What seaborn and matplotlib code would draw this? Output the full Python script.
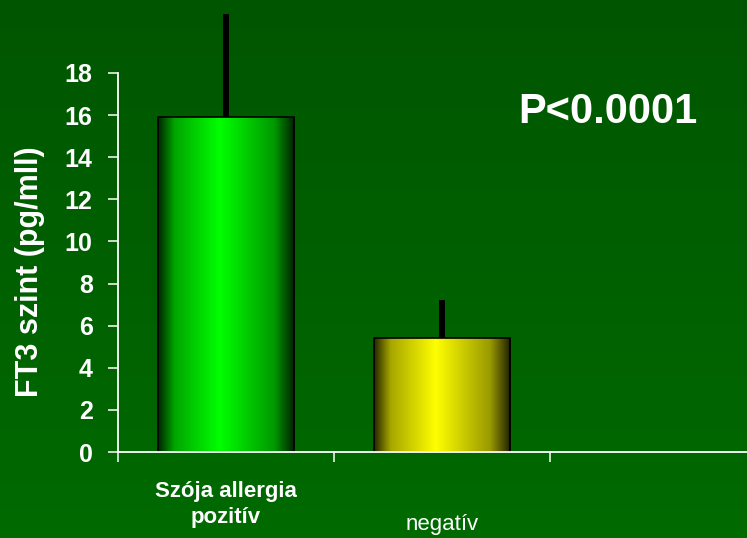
import matplotlib
matplotlib.use('Agg')
import matplotlib.pyplot as plt
import numpy as np
import pandas as pd
import seaborn as sns

# Dados
groups = ['Szója allergia\npozitív', 'negatív']
means = [15.9, 5.4]
sds = [4.9, 1.8]
bar_colors = ['#00ff00', '#ffff00']
yticks = [0, 2, 4, 6, 8, 10, 12, 14, 16, 18]
ylabel = 'FT3 szint (pg/mll)'
ptext = 'P<0.0001'

df = pd.DataFrame({'group': groups, 'mean': means})

sns.set_style('white')
plt.rcParams['font.family'] = ['Liberation Sans', 'DejaVu Sans']

fig = plt.figure(figsize=(7.47, 5.38), dpi=100)

# fundo com gradiente verde
bg = fig.add_axes([0, 0, 1, 1], zorder=-1)
g = np.linspace(0, 1, 256)[:, None]
bg_img = np.zeros((256, 2, 3))
bg_img[..., 1] = (86 + 20 * g) / 255
bg.imshow(bg_img, aspect='auto', extent=[0, 1, 0, 1], origin='upper')
bg.axis('off')

ax = fig.add_axes([118 / 747, 1 - 452 / 538, 648 / 747, 452 / 538])
ax.patch.set_alpha(0)

sns.barplot(data=df, x='group', y='mean', hue='group', palette=bar_colors,
            width=0.63, edgecolor='black', linewidth=1.2, legend=False, ax=ax)

ax.set_xlim(-0.5, 2.5)
ax.set_ylim(0, 21.46)

# gradiente horizontal nas barras
t = np.linspace(0, 1, 200)
shade = np.interp(t, [0, 0.12, 0.45, 0.85, 1.0], [0.15, 0.65, 1.0, 0.6, 0.12])
for patch, col in zip(ax.patches, bar_colors):
    x0, y0 = patch.get_x(), patch.get_y()
    w, h = patch.get_width(), patch.get_height()
    rgb = np.array(matplotlib.colors.to_rgb(col))
    img = shade[None, :, None] * rgb[None, None, :]
    im = ax.imshow(img, aspect='auto', extent=[x0, x0 + w, y0, y0 + h],
                   zorder=patch.get_zorder() - 0.1, interpolation='bilinear')
    im.set_clip_path(patch)
    patch.set_facecolor('none')
    patch.set_zorder(patch.get_zorder() + 0.2)

# barras de erro (so para cima)
ax.vlines(range(len(means)), means, [m + s for m, s in zip(means, sds)],
          color='black', lw=4.3, zorder=5, clip_on=False)
ax.set_xlim(-0.5, 2.5)
ax.set_ylim(0, 21.46)

# eixos
for s in ['top', 'right']:
    ax.spines[s].set_visible(False)
for s in ['left', 'bottom']:
    ax.spines[s].set_color('white')
    ax.spines[s].set_linewidth(1.3)
ax.spines['left'].set_bounds(0, 18)

ax.set_yticks(yticks)
ax.set_yticklabels([str(v) for v in yticks], fontsize=18, fontweight='bold',
                   color='white')
ax.tick_params(axis='y', left=True, direction='out', length=7.2, width=1.1,
               colors='white', pad=11)
ax.set_xticks([-0.5, 0.5, 1.5])
ax.set_xticklabels([])
ax.tick_params(axis='x', bottom=True, direction='out', length=7, width=1.1,
               colors='white')
ax.set_xlabel('')
ax.set_ylabel(ylabel, fontsize=22, fontweight='bold', color='white')
ax.yaxis.set_label_coords(-73 / 648, 0.40)

# rotulos das categorias
ax.text(0, -1.4, groups[0], ha='center', va='top', fontsize=16,
        fontweight='bold', color='white', linespacing=1.3)
ax.text(1, -2.95, groups[1], ha='center', va='top', fontsize=16,
        color='white')

fig.text(608 / 747, 1 - 112 / 538, ptext, ha='center', va='center',
         fontsize=30, fontweight='bold', color='white')

plt.savefig('out.png', dpi=100)
